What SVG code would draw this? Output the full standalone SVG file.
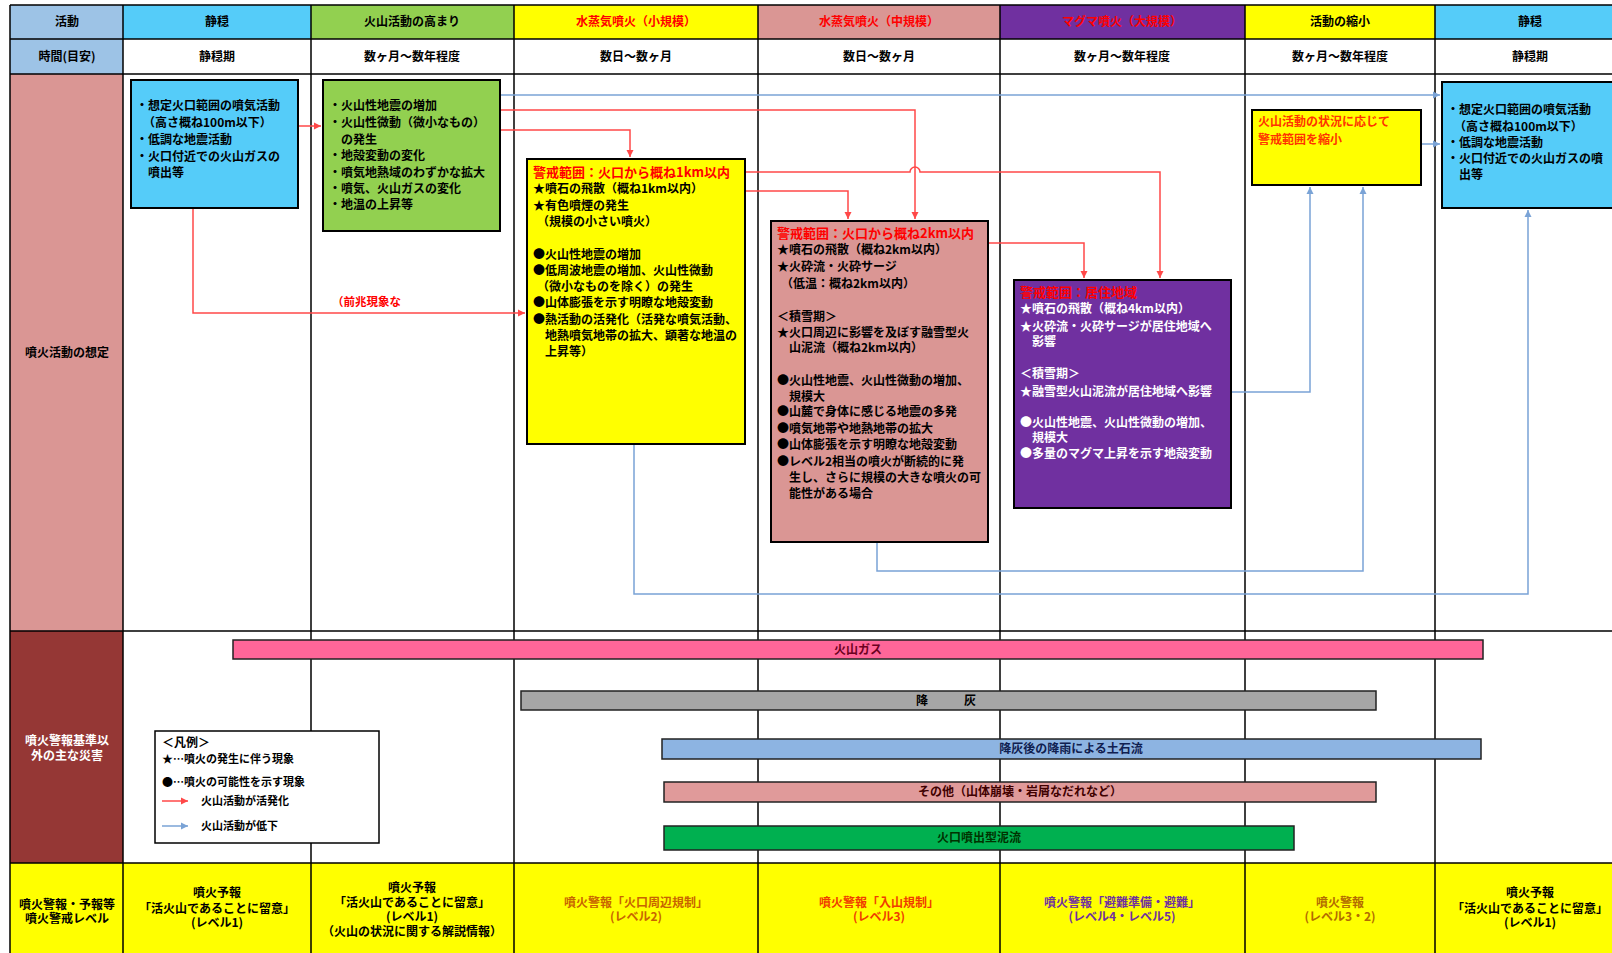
<svg xmlns="http://www.w3.org/2000/svg" width="1612" height="953" viewBox="0 0 1612 953">
<style>
text{font-family:"Noto Sans CJK JP","Noto Sans",sans-serif;font-weight:700;font-size:12px;fill:#000}
.c{text-anchor:middle}
.r{fill:#ff0000}
.w{fill:#fff}
.ttl{font-size:13px;fill:#ff0000}
.lg{font-size:11px}
.g{stroke:#000;stroke-width:1.5;fill:none}
.box{stroke:#000;stroke-width:2}
.bar{stroke:#222;stroke-width:1.5}
.cr{stroke:#ff4848;stroke-width:1.5;fill:none}
.cb{stroke:#7aa3d6;stroke-width:1.5;fill:none}
</style>
<defs>
<marker id="ar" markerWidth="8" markerHeight="8" refX="7" refY="4" orient="auto" markerUnits="userSpaceOnUse"><path d="M0,0.5 L7,4 L0,7.5 z" fill="#ff4848"/></marker>
<marker id="ab" markerWidth="8" markerHeight="8" refX="7" refY="4" orient="auto" markerUnits="userSpaceOnUse"><path d="M0,0.5 L7,4 L0,7.5 z" fill="#7aa3d6"/></marker>
</defs>
<rect x="0" y="0" width="1612" height="953" fill="#fff"/>
<g id="table">
<rect x="10" y="5" width="113" height="34" fill="#9dc3e6"/>
<rect x="123" y="5" width="188" height="34" fill="#55ccf9"/>
<rect x="311" y="5" width="203" height="34" fill="#92d050"/>
<rect x="514" y="5" width="244" height="34" fill="#ffff00"/>
<rect x="758" y="5" width="242" height="34" fill="#da9694"/>
<rect x="1000" y="5" width="245" height="34" fill="#7030a0"/>
<rect x="1245" y="5" width="190" height="34" fill="#ffff00"/>
<rect x="1435" y="5" width="185" height="34" fill="#55ccf9"/>
<rect x="10" y="39" width="113" height="35" fill="#9dc3e6"/>
<rect x="10" y="74" width="113" height="557" fill="#da9694"/>
<rect x="10" y="631" width="113" height="232" fill="#953735"/>
<rect x="10" y="863" width="1610" height="95" fill="#ffff00"/>
<path class="g" d="M10,5H1612M10,39H1612M10,74H1612M10,631H1612M10,863H1612"/>
<path class="g" d="M10,5V953M123,5V953M311,5V953M514,5V953M758,5V953M1000,5V953M1245,5V953M1435,5V953"/>
<text class="c" x="67" y="26">活動</text>
<text class="c" x="217" y="26">静穏</text>
<text class="c" x="412" y="26">火山活動の高まり</text>
<text class="c r" x="636" y="26">水蒸気噴火（小規模）</text>
<text class="c r" x="879" y="26">水蒸気噴火（中規模）</text>
<text class="c r" x="1122" y="26">マグマ噴火（大規模）</text>
<text class="c" x="1340" y="26">活動の縮小</text>
<text class="c" x="1530" y="26">静穏</text>
<text class="c" x="67" y="61">時間(目安)</text>
<text class="c" x="217" y="61">静穏期</text>
<text class="c" x="412" y="61">数ヶ月～数年程度</text>
<text class="c" x="636" y="61">数日～数ヶ月</text>
<text class="c" x="879" y="61">数日～数ヶ月</text>
<text class="c" x="1122" y="61">数ヶ月～数年程度</text>
<text class="c" x="1340" y="61">数ヶ月～数年程度</text>
<text class="c" x="1530" y="61">静穏期</text>
<text class="c" x="67" y="357">噴火活動の想定</text>
<text class="c w" x="67" y="745">噴火警報基準以</text>
<text class="c w" x="67" y="760">外の主な災害</text>
<text class="c" x="67" y="909">噴火警報・予報等</text>
<text class="c" x="67" y="923">噴火警戒レベル</text>
<text class="c" x="217" y="897">噴火予報</text>
<text class="c" x="217" y="913">「活火山であることに留意」</text>
<text class="c" x="217" y="927">(レベル1)</text>
<text class="c" x="412" y="892">噴火予報</text>
<text class="c" x="412" y="907">「活火山であることに留意」</text>
<text class="c" x="412" y="921">(レベル1)</text>
<text class="c" x="412" y="936">（火山の状況に関する解説情報）</text>
<text class="c" x="636" y="907" style="fill:#c86400">噴火警報「火口周辺規制」</text>
<text class="c" x="636" y="921" style="fill:#c86400">(レベル2)</text>
<text class="c" x="879" y="907" style="fill:#f03c00">噴火警報「入山規制」</text>
<text class="c" x="879" y="921" style="fill:#f03c00">(レベル3)</text>
<text class="c" x="1122" y="907" style="fill:#7030a0">噴火警報「避難準備・避難」</text>
<text class="c" x="1122" y="921" style="fill:#7030a0">(レベル4・レベル5)</text>
<text class="c" x="1340" y="907" style="fill:#b36b00">噴火警報</text>
<text class="c" x="1340" y="921" style="fill:#b36b00">(レベル3・2)</text>
<text class="c" x="1530" y="897">噴火予報</text>
<text class="c" x="1530" y="913">「活火山であることに留意」</text>
<text class="c" x="1530" y="927">(レベル1)</text>
</g>
<g id="hazards">
<g id="bar-gas"><rect class="bar" x="233" y="640" width="1250" height="19" fill="#ff6699"/><text class="c" x="858" y="654" style="fill:#6b0020">火山ガス</text></g>
<g id="bar-ash"><rect class="bar" x="521" y="691" width="855" height="19" fill="#a6a6a6"/><text class="c" x="946" y="705">降　　　灰</text></g>
<g id="bar-lahar"><rect class="bar" x="662" y="739" width="819" height="20" fill="#8db4e2"/><text class="c" x="1071" y="753" style="fill:#102050">降灰後の降雨による土石流</text></g>
<g id="bar-other"><rect class="bar" x="664" y="782" width="712" height="20" fill="#e09a9a"/><text class="c" x="1020" y="796" style="fill:#400000">その他（山体崩壊・岩屑なだれなど）</text></g>
<g id="bar-mudflow"><rect class="bar" x="664" y="826" width="630" height="24" fill="#00b050"/><text class="c" x="979" y="842" style="fill:#003300">火口噴出型泥流</text></g>
</g>
<g id="connectors">
<path class="cr" d="M298,126H321" marker-end="url(#ar)"/>
<path class="cr" d="M193,208V313H525" marker-end="url(#ar)"/>
<path class="cb" d="M500,95H1440" marker-end="url(#ab)"/>
<path class="cr" d="M500,110H915V219" marker-end="url(#ar)"/>
<path class="cr" d="M500,130H630V157" marker-end="url(#ar)"/>
<path class="cr" d="M745,172H910A5,5 0 0 1 920,172H1160V278" marker-end="url(#ar)"/>
<path class="cr" d="M745,191H848V219" marker-end="url(#ar)"/>
<path class="cr" d="M988,243H1084V278" marker-end="url(#ar)"/>
<path class="cb" d="M1231,392H1310V187" marker-end="url(#ab)"/>
<path class="cb" d="M877,542V571H1363V187" marker-end="url(#ab)"/>
<path class="cb" d="M634,444V594H1528V210" marker-end="url(#ab)"/>
<path class="cb" d="M1421,144H1440" marker-end="url(#ab)"/>
<text x="332" y="306" class="r" style="font-size:11.5px">（前兆現象な</text>
</g>
<g id="node-calm1">
<rect class="box" x="131" y="80" width="167" height="128" fill="#55ccf9"/>
<text x="136" y="110">・想定火口範囲の噴気活動</text>
<text x="143" y="127">（高さ概ね100m以下）</text>
<text x="136" y="144">・低調な地震活動</text>
<text x="136" y="161">・火口付近での火山ガスの</text>
<text x="148" y="177">噴出等</text>
</g>
<g id="node-rise">
<rect class="box" x="323" y="80" width="177" height="151" fill="#92d050"/>
<text x="329" y="110">・火山性地震の増加</text>
<text x="329" y="127">・火山性微動（微小なもの）</text>
<text x="341" y="144">の発生</text>
<text x="329" y="160">・地殻変動の変化</text>
<text x="329" y="177">・噴気地熱域のわずかな拡大</text>
<text x="329" y="193">・噴気、火山ガスの変化</text>
<text x="329" y="209">・地温の上昇等</text>
</g>
<g id="node-small">
<rect class="box" x="527" y="159" width="218" height="285" fill="#ffff00"/>
<text class="ttl" x="533" y="177">警戒範囲：火口から概ね1km以内</text>
<text x="533" y="193">★噴石の飛散（概ね1km以内）</text>
<text x="533" y="210">★有色噴煙の発生</text>
<text x="537" y="226">（規模の小さい噴火）</text>
<text x="533" y="259">●火山性地震の増加</text>
<text x="533" y="275">●低周波地震の増加、火山性微動</text>
<text x="537" y="291">（微小なものを除く）の発生</text>
<text x="533" y="307">●山体膨張を示す明瞭な地殻変動</text>
<text x="533" y="324">●熱活動の活発化（活発な噴気活動、</text>
<text x="545" y="340">地熱噴気地帯の拡大、顕著な地温の</text>
<text x="545" y="356">上昇等）</text>
</g>
<g id="node-medium">
<rect class="box" x="771" y="221" width="217" height="321" fill="#da9694"/>
<text class="ttl" x="777" y="238">警戒範囲：火口から概ね2km以内</text>
<text x="777" y="254">★噴石の飛散（概ね2km以内）</text>
<text x="777" y="271">★火砕流・火砕サージ</text>
<text x="781" y="288">（低温：概ね2km以内）</text>
<text x="777" y="321">＜積雪期＞</text>
<text x="777" y="337">★火口周辺に影響を及ぼす融雪型火</text>
<text x="789" y="352">山泥流（概ね2km以内）</text>
<text x="777" y="385">●火山性地震、火山性微動の増加、</text>
<text x="789" y="401">規模大</text>
<text x="777" y="416">●山麓で身体に感じる地震の多発</text>
<text x="777" y="433">●噴気地帯や地熱地帯の拡大</text>
<text x="777" y="449">●山体膨張を示す明瞭な地殻変動</text>
<text x="777" y="466">●レベル2相当の噴火が断続的に発</text>
<text x="789" y="482">生し、さらに規模の大きな噴火の可</text>
<text x="789" y="498">能性がある場合</text>
</g>
<g id="node-large">
<rect class="box" x="1014" y="280" width="217" height="228" fill="#7030a0"/>
<text class="ttl" x="1020" y="297">警戒範囲：居住地域</text>
<text class="w" x="1020" y="313">★噴石の飛散（概ね4km以内）</text>
<text class="w" x="1020" y="331">★火砕流・火砕サージが居住地域へ</text>
<text class="w" x="1032" y="346">影響</text>
<text class="w" x="1020" y="378">＜積雪期＞</text>
<text class="w" x="1020" y="396">★融雪型火山泥流が居住地域へ影響</text>
<text class="w" x="1020" y="427">●火山性地震、火山性微動の増加、</text>
<text class="w" x="1032" y="442">規模大</text>
<text class="w" x="1020" y="458">●多量のマグマ上昇を示す地殻変動</text>
</g>
<g id="node-shrink">
<rect class="box" x="1252" y="110" width="169" height="75" fill="#ffff00"/>
<text x="1258" y="126" style="fill:#ff3300">火山活動の状況に応じて</text>
<text x="1258" y="144" style="fill:#ff3300">警戒範囲を縮小</text>
</g>
<g id="node-calm2">
<rect class="box" x="1442" y="82" width="185" height="126" fill="#55ccf9"/>
<text x="1447" y="114">・想定火口範囲の噴気活動</text>
<text x="1454" y="131">（高さ概ね100m以下）</text>
<text x="1447" y="147">・低調な地震活動</text>
<text x="1447" y="163">・火口付近での火山ガスの噴</text>
<text x="1459" y="179">出等</text>
</g>
<g id="legend">
<rect x="155" y="731" width="224" height="112" fill="#fff" stroke="#000" stroke-width="1.5"/>
<text x="162" y="747">＜凡例＞</text>
<text class="lg" x="162" y="763">★…噴火の発生に伴う現象</text>
<text class="lg" x="162" y="786">●…噴火の可能性を示す現象</text>
<path class="cr" d="M162,801H188" marker-end="url(#ar)"/>
<text class="lg" x="201" y="805">火山活動が活発化</text>
<path class="cb" d="M162,826H188" marker-end="url(#ab)"/>
<text class="lg" x="201" y="830">火山活動が低下</text>
</g>
</svg>
